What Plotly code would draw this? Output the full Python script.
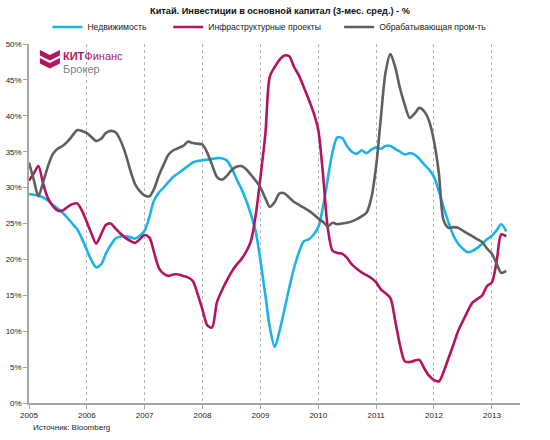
import plotly.graph_objects as go

# ---- data (monthly, Jan 2005 .. Apr 2013), % y/y, 3-month average ----
dates = [f"{y}-{m:02d}-01" for y in range(2005, 2014) for m in range(1, 13)][:100]

real_estate = [
    29.1, 29.0, 28.9, 28.6, 28.2, 27.6, 27.1, 26.5, 25.8, 25.0, 24.2, 22.9,  # 2005
    21.3, 19.8, 18.9, 19.3, 20.8, 22.0, 22.9, 23.2, 23.2, 23.1, 22.9, 23.3,  # 2006
    24.0, 26.0, 28.2, 29.3, 30.0, 30.8, 31.5, 32.0, 32.5, 33.0, 33.5, 33.7,  # 2007
    33.8, 33.9, 34.0, 34.1, 34.1, 33.8, 32.8, 31.3, 29.9, 28.3, 26.3, 24.0,  # 2008
    19.8, 15.0, 10.5, 7.8, 10.0, 13.0, 16.0, 18.8, 21.0, 22.5, 22.8, 23.4,   # 2009
    24.5, 27.5, 31.1, 35.0, 37.0, 36.9, 35.8, 35.0, 34.7, 35.2, 34.8, 35.3,  # 2010
    35.6, 35.4, 35.8, 35.8, 35.4, 35.0, 34.6, 34.8, 34.6, 34.0, 33.2, 32.5,  # 2011
    31.5, 29.5, 27.3, 25.2, 23.4, 22.2, 21.5, 21.0, 21.2, 21.6, 22.2, 22.8,  # 2012
    23.3, 24.1, 24.9, 23.9,                                                  # 2013
]

infrastructure = [
    31.0, 32.0, 33.0, 30.5, 28.5, 27.4, 26.8, 26.8, 27.3, 27.7, 27.8, 26.8,  # 2005
    25.2, 23.5, 22.2, 23.5, 24.8, 25.0, 24.3, 23.6, 23.0, 22.6, 22.3, 22.8,  # 2006
    23.4, 23.0, 21.0, 18.8, 18.0, 17.7, 17.9, 17.9, 17.7, 17.5, 17.0, 15.2,  # 2007
    13.0, 10.8, 10.5, 14.0, 15.6, 17.0, 18.2, 19.2, 20.0, 21.0, 22.5, 26.0,  # 2008
    31.5, 37.5, 45.5, 46.8, 47.8, 48.4, 48.3, 46.8, 45.6, 44.0, 42.3, 40.5,  # 2009
    38.0, 31.5, 24.5, 21.2, 20.9, 20.8, 20.2, 19.3, 18.7, 18.2, 17.8, 17.4,  # 2010
    16.8, 15.8, 15.3, 14.6, 11.5, 8.0, 5.8, 5.7, 5.9, 6.0, 4.8, 3.8,         # 2011
    3.2, 3.0, 4.3, 6.2, 8.0, 10.0, 11.4, 12.8, 14.0, 14.5, 15.0, 16.3,       # 2012
    16.8, 20.0, 23.5, 23.2,                                                  # 2013
]

manufacturing = [
    33.5, 31.0, 28.8, 30.8, 33.0, 34.7, 35.4, 35.8, 36.4, 37.2, 38.0, 37.9,  # 2005
    37.6, 37.0, 36.5, 36.8, 37.6, 37.9, 37.7, 36.6, 34.8, 32.5, 30.5, 29.5,  # 2006
    28.9, 28.8, 29.8, 31.7, 33.2, 34.6, 35.2, 35.5, 35.8, 36.4, 36.2, 36.1,  # 2007
    36.0, 34.8, 33.2, 31.5, 31.1, 31.6, 32.4, 32.9, 33.0, 32.6, 31.8, 31.0,  # 2008
    30.0, 28.5, 27.3, 28.0, 29.2, 29.2, 28.6, 28.0, 27.6, 27.2, 26.8, 26.3,  # 2009
    25.7, 25.2, 24.6, 25.1, 24.9, 25.0, 25.1, 25.3, 25.6, 26.0, 26.5, 28.5,  # 2010
    33.0, 40.0, 46.0, 48.6, 46.8, 43.8, 41.5, 39.7, 40.3, 41.1, 40.6, 39.3,  # 2011
    36.5, 32.0, 25.5, 24.4, 24.5, 24.4, 24.0, 23.6, 23.2, 22.8, 22.4, 21.5,  # 2012
    20.8, 19.3, 18.1, 18.4,                                                  # 2013
]

series_names = ["Недвижимость", "Инфраструктурные проекты", "Обрабатывающая пром-ть"]
series_values = [real_estate, infrastructure, manufacturing]
series_colors = ["#1cb3ea", "#b5135f", "#5f5f5f"]

year_ticks = [f"{y}-01-01" for y in range(2005, 2014)]
year_labels = [str(y) for y in range(2005, 2014)]
y_ticks = list(range(0, 51, 5))
y_labels = [f"{v}%" for v in y_ticks]

FONT = "Liberation Sans, Arial, sans-serif"
W, H = 550, 440
L, R, T, B = 28.6, 520.0, 44.0, 403.5  # plot area in pixels


def px(x):
    return (x - L) / (R - L)


def py(y):
    return (B - y) / (B - T)


fig = go.Figure()
legend_ids = ["legend", "legend2", "legend3"]
for name, vals, col, lg in zip(series_names, series_values, series_colors, legend_ids):
    fig.add_trace(go.Scatter(
        x=dates, y=vals, name=name, mode="lines",
        line=dict(color=col, width=2.6, shape="spline", smoothing=0.8),
        legend=lg, hoverinfo="skip",
    ))

legend_x = [47, 168, 339]
common_legend = dict(orientation="h", yanchor="middle", y=py(27), xanchor="left",
                     font=dict(family=FONT, size=8.6, color="#222"),
                     bgcolor="rgba(0,0,0,0)", itemwidth=30, tracegroupgap=0)
layout_legends = {}
for lg, lx in zip(legend_ids, legend_x):
    d = dict(common_legend)
    d["x"] = px(lx)
    layout_legends[lg] = d

axis_color = "#a6a6a6"
tick_font = dict(family=FONT, size=8, color="#222")
fig.update_layout(
    width=W, height=H,
    margin=dict(l=L, r=W - R, t=T, b=H - B, pad=0, autoexpand=False),
    paper_bgcolor="white", plot_bgcolor="white",
    font=dict(family=FONT, size=8, color="#222"),
    title=dict(text="<b>Китай. Инвестиции в основной капитал (3-мес. сред.) - %</b>",
               x=280 / W, xanchor="center", y=1 - 10.5 / H, yanchor="middle",
               font=dict(family=FONT, size=9.2, color="#111")),
    showlegend=True,
    **layout_legends,
    xaxis=dict(
        type="date", range=["2005-01-01", "2013-06-27"],
        tickvals=year_ticks, ticktext=year_labels,
        showgrid=True, gridcolor="#b5b5b5", griddash="dot", gridwidth=1,
        showline=True, linecolor=axis_color, linewidth=1.5,
        ticks="outside", ticklen=4, tickcolor=axis_color,
        tickfont=tick_font, automargin=False,
        zeroline=False, fixedrange=True,
    ),
    yaxis=dict(
        range=[0, 50], tickvals=y_ticks, ticktext=y_labels,
        showgrid=False, zeroline=False,
        showline=True, linecolor=axis_color, linewidth=1.5,
        ticks="outside", ticklen=4, tickcolor=axis_color,
        tickfont=tick_font, automargin=False,
    ),
    yaxis2=dict(
        range=[0, 50], tickvals=y_ticks, ticktext=y_labels,
        overlaying="y", side="right", anchor="x",
        showgrid=False, zeroline=False,
        showline=True, linecolor=axis_color, linewidth=1.5,
        ticks="outside", ticklen=4, tickcolor=axis_color,
        tickfont=tick_font, automargin=False,
    ),
)

# logo (chevrons + text)
magenta = "#b5135f"
for dy in (0, 8):
    pts = [(39.5, 50 + dy), (49.5, 55 + dy), (59.5, 50 + dy),
           (59.5, 55.5 + dy), (49.5, 60.5 + dy), (39.5, 55.5 + dy)]
    path = "M " + " L ".join(f"{px(x):.5f},{py(y):.5f}" for x, y in pts) + " Z"
    fig.add_shape(type="path", path=path, xref="paper", yref="paper",
                  fillcolor=magenta, line=dict(width=0), layer="above")

fig.add_annotation(text="<b>КИТ</b>Финанс", xref="paper", yref="paper",
                   x=px(61), y=py(56), xanchor="left", yanchor="middle",
                   showarrow=False, font=dict(family=FONT, size=11, color=magenta))
fig.add_annotation(text="Брокер", xref="paper", yref="paper",
                   x=px(61), y=py(69.5), xanchor="left", yanchor="middle",
                   showarrow=False, font=dict(family=FONT, size=11, color="#7f7f7f"))

# source note
fig.add_annotation(text="Источник: Bloomberg", xref="paper", yref="paper",
                   x=px(31), y=py(428), xanchor="left", yanchor="middle",
                   showarrow=False, font=dict(family=FONT, size=8, color="#222"))

fig.write_html("out.html", config={"displayModeBar": False},
               post_script="document.body.style.margin='0';")
